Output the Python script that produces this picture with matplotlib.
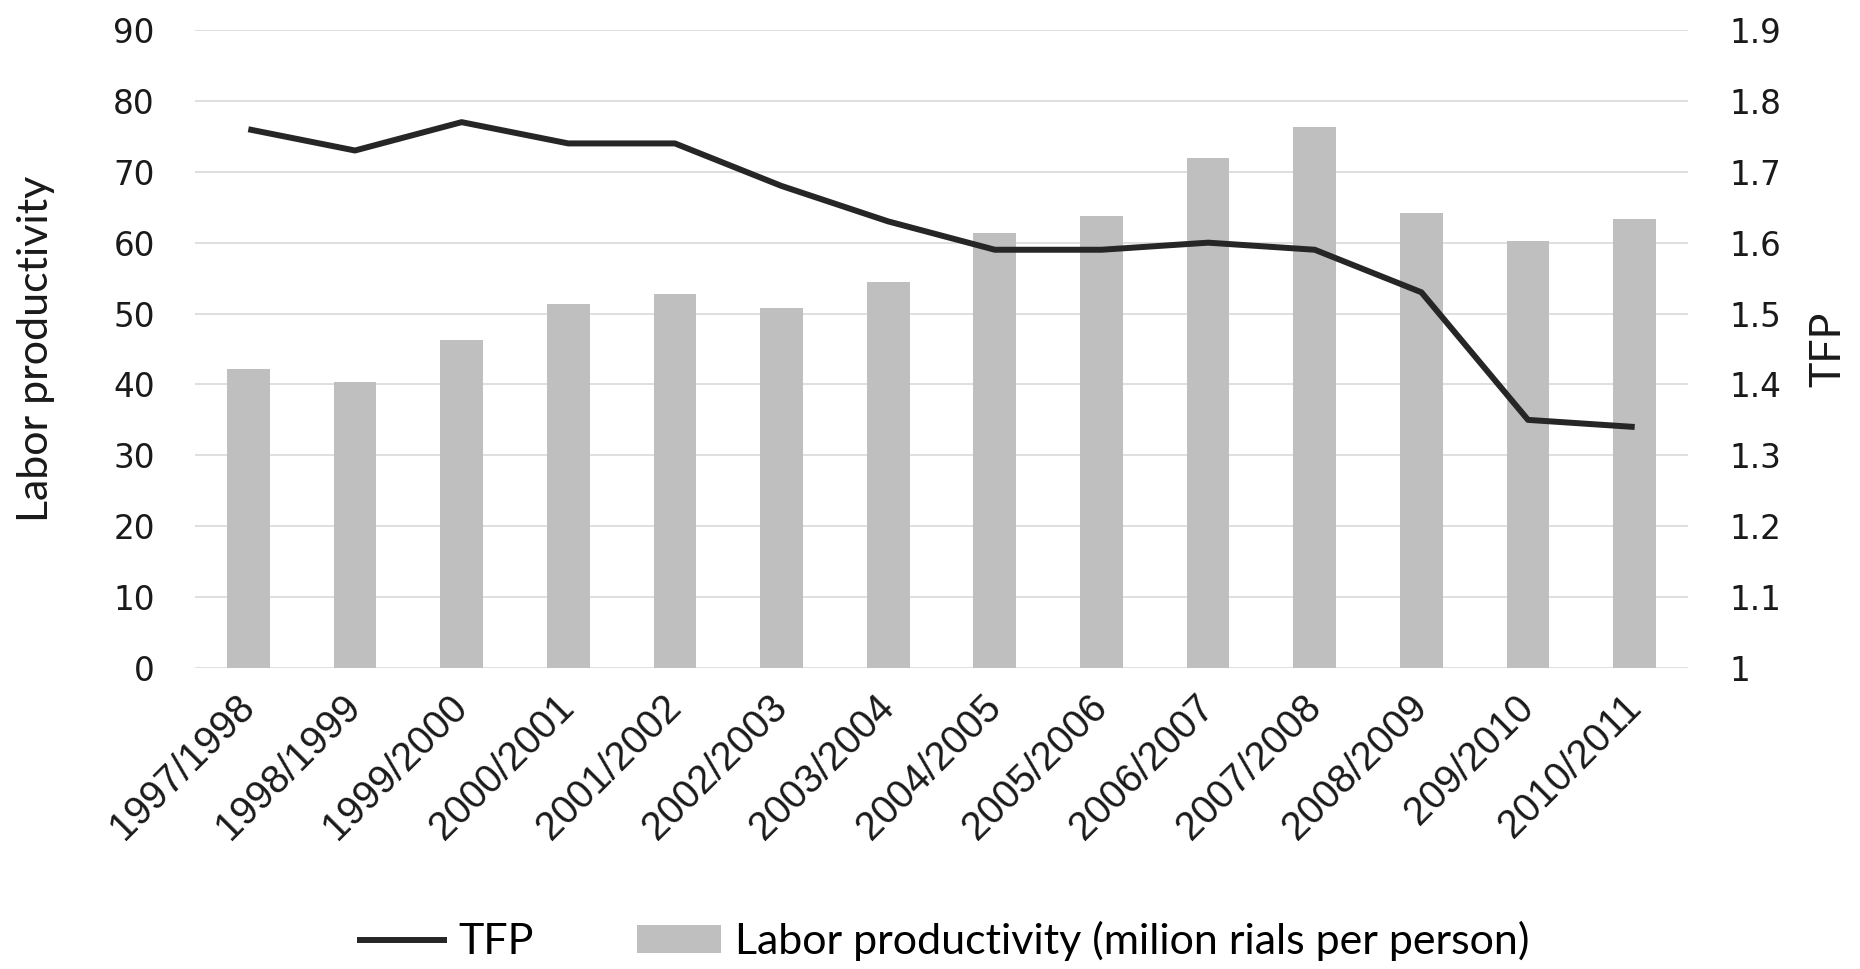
import matplotlib
matplotlib.use("Agg")
import matplotlib.pyplot as plt
from matplotlib.lines import Line2D
from matplotlib.patches import Patch
import numpy as np

# Fiscal years (Iranian calendar spans two Gregorian years)
years = ["1997/1998", "1998/1999", "1999/2000", "2000/2001", "2001/2002",
         "2002/2003", "2003/2004", "2004/2005", "2005/2006", "2006/2007",
         "2007/2008", "2008/2009", "209/2010", "2010/2011"]

# Labor productivity, million rials per person (left axis)
labor_productivity = [42.2, 40.3, 46.2, 51.4, 52.8, 50.8, 54.4,
                      61.3, 63.7, 71.9, 76.3, 64.2, 60.3, 63.3]

# Total factor productivity (right axis)
tfp = [1.76, 1.73, 1.77, 1.74, 1.74, 1.68, 1.63,
       1.59, 1.59, 1.60, 1.59, 1.53, 1.35, 1.34]

left_ticks = [0, 10, 20, 30, 40, 50, 60, 70, 80, 90]
right_ticks = [1.0, 1.1, 1.2, 1.3, 1.4, 1.5, 1.6, 1.7, 1.8, 1.9]
right_tick_labels = ["1", "1.1", "1.2", "1.3", "1.4", "1.5", "1.6", "1.7", "1.8", "1.9"]

W, H = 1860, 969
fig = plt.figure(figsize=(W / 100, H / 100), dpi=100)
fig.patch.set_facecolor("white")

left, right, bottom, top = 195, 1688, 668, 30
ax = fig.add_axes([left / W, (H - bottom) / H, (right - left) / W, (bottom - top) / H])
x = np.arange(len(years))

ax.bar(x, labor_productivity, width=0.4, color="#bfbfbf", zorder=2)
ax.set_xlim(-0.5, len(years) - 0.5)
ax.set_ylim(0, 90)
ax.set_axisbelow(True)
ax.yaxis.grid(True, color="#d9d9d9", linewidth=1.2)
for s in ax.spines.values():
    s.set_visible(False)

tick_font = {"family": "DejaVu Sans", "size": 23.5, "color": "#1a1a1a"}
ax.set_yticks(left_ticks)
ax.set_yticklabels([str(v) for v in left_ticks], **tick_font)
ax.tick_params(axis="y", length=0, pad=29)

ax.set_xticks(x)
ax.set_xticklabels(years, rotation=45, ha="right", va="center",
                   rotation_mode="anchor", family="Liberation Sans",
                   fontsize=28.5, color="#1a1a1a")
ax.tick_params(axis="x", length=0, pad=24)

ax2 = ax.twinx()
ax2.plot(x, tfp, color="#262626", linewidth=4.3, solid_joinstyle="round",
         solid_capstyle="butt", zorder=3)
ax2.set_ylim(1.0, 1.9)
ax2.set_yticks(right_ticks)
ax2.set_yticklabels(right_tick_labels, **tick_font)
ax2.tick_params(axis="y", length=0, pad=30)
for s in ax2.spines.values():
    s.set_visible(False)

title_font = {"family": "Lato", "size": 31, "color": "#1a1a1a"}
fig.text(36 / W, (H - 349) / H, "Labor productivity", rotation=90,
         ha="center", va="center", **title_font)
fig.text(1828 / W, (H - 349) / H, "TFP", rotation=90,
         ha="center", va="center", **title_font)

handles = [Line2D([0], [0], color="#262626", linewidth=4.3),
           Patch(facecolor="#bfbfbf", edgecolor="none")]
fig.legend(handles, ["TFP", "Labor productivity (milion rials per person)"],
           ncol=2, loc="center left", bbox_to_anchor=(360 / W, (H - 941) / H),
           frameon=False, borderpad=0, borderaxespad=0,
           prop={"family": "Lato", "size": 31},
           handlelength=1.95, handleheight=0.6, handletextpad=0.33,
           columnspacing=2.4)

fig.savefig("out.png", dpi=100, facecolor="white")
